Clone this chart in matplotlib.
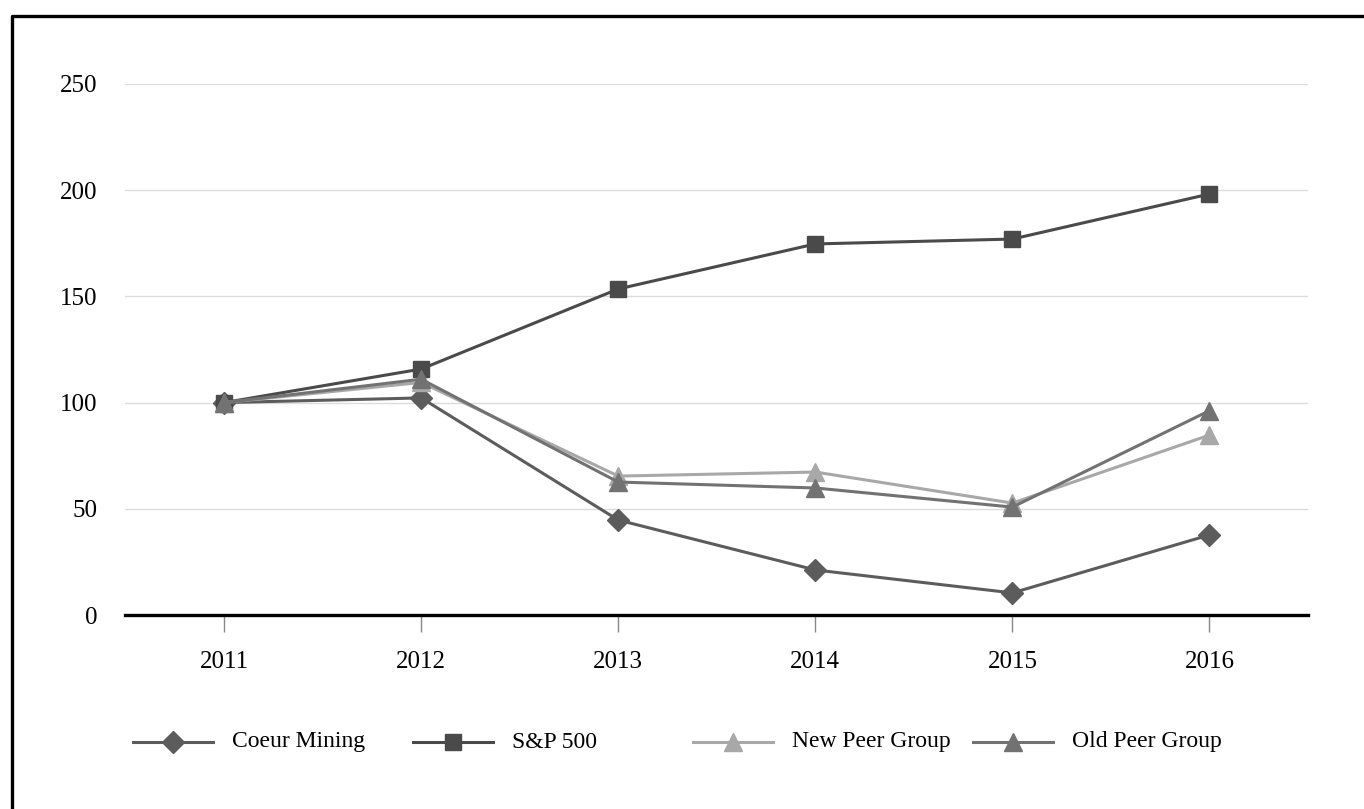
import matplotlib
matplotlib.use("Agg")
import matplotlib.pyplot as plt
from matplotlib.lines import Line2D

plt.rcParams['font.family'] = ['Liberation Serif', 'DejaVu Serif']

years = ['2011', '2012', '2013', '2014', '2015', '2016']
coeur = [100, 102.2, 44.7, 21.2, 10.4, 37.7]
sp500 = [100, 115.8, 153.5, 174.7, 177.0, 198.2]
new_peer = [100, 109.5, 65.4, 67.3, 52.7, 84.7]
old_peer = [100, 111.0, 62.6, 59.8, 50.8, 96.2]

series = [
    ('Coeur Mining', coeur, '#5c5c5c', 'D', 11),
    ('S&P 500', sp500, '#4a4a4a', 's', 12),
    ('New Peer Group', new_peer, '#a8a8a8', '^', 13),
    ('Old Peer Group', old_peer, '#727272', '^', 13),
]

W, H = 1364, 809
fig = plt.figure(figsize=(W / 100, H / 100), dpi=100)


def fx(x):
    return x / W


def fy(y):
    return 1 - y / H


ax = fig.add_axes([fx(125), fy(615), fx(1308) - fx(125), fy(84) - fy(615)])

x = list(range(len(years)))
for name, vals, col, mk, ms in series:
    ax.plot(x, vals, color=col, lw=2.2, marker=mk, markersize=ms,
            markerfacecolor=col, markeredgecolor=col, zorder=3)

ax.set_xlim(-0.503, 5.5)
ax.set_ylim(0, 250)
ax.set_yticks([0, 50, 100, 150, 200, 250])
ax.set_xticks(x)
ax.set_xticklabels(years)
ax.yaxis.grid(True, color='#dcdcdc', lw=1)
ax.set_axisbelow(True)
for s in ['top', 'right', 'left']:
    ax.spines[s].set_visible(False)
ax.spines['bottom'].set_linewidth(2.4)
ax.spines['bottom'].set_color('black')
ax.tick_params(axis='y', length=0, pad=20, labelsize=18)
ax.tick_params(axis='x', length=12, width=1, color='#888888', pad=14, labelsize=18)

# legend drawn by hand in pixel slots
leg_x = [133, 413, 693, 973]
leg_y = 742
for (name, vals, col, mk, ms), x0 in zip(series, leg_x):
    fig.add_artist(Line2D([fx(x0), fx(x0 + 80)], [fy(leg_y), fy(leg_y)],
                          color=col, lw=2.2, transform=fig.transFigure))
    fig.add_artist(Line2D([fx(x0 + 40)], [fy(leg_y)], marker=mk, markersize=ms,
                          color=col, markeredgecolor=col, lw=0,
                          transform=fig.transFigure))
    fig.text(fx(x0 + 99), fy(leg_y), name, fontsize=17, va='center', ha='left')

# page frame (left and top edges)
fig.add_artist(Line2D([fx(12), fx(12), fx(W + 5)], [fy(H + 5), fy(16), fy(16)],
                      color='black', lw=2.4, transform=fig.transFigure))

fig.savefig('out.png', dpi=100, facecolor='white')
